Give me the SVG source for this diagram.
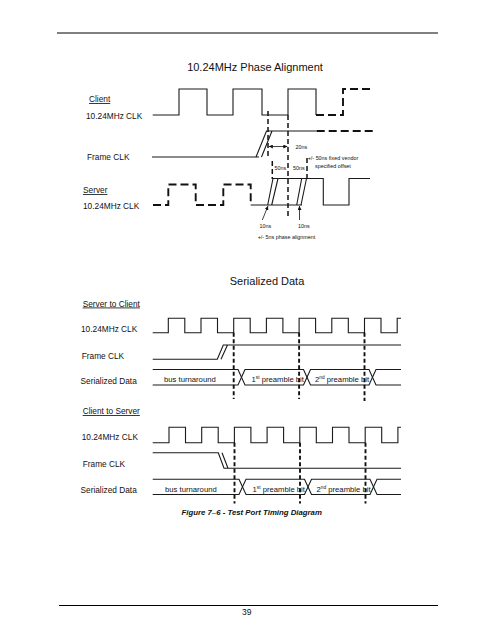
<svg xmlns="http://www.w3.org/2000/svg" width="495" height="640" viewBox="0 0 495 640">
<style>
text{font-family:"Liberation Sans",Arial,sans-serif;fill:#111}
.lbl{font-size:8.3px}
.ttl{font-size:11px;text-anchor:middle}
.sm{font-size:5.4px}
.dt{font-size:7.7px}
.w{fill:none;stroke:#1a1a1a;stroke-width:1.1}
.wd{fill:none;stroke:#111;stroke-width:1.9;stroke-dasharray:8 4}
.vd{fill:none;stroke:#111;stroke-width:1.5;stroke-dasharray:5 3}
.vs{fill:none;stroke:#111;stroke-width:1.9;stroke-dasharray:4 2.5}
.rule{stroke:#000;stroke-width:1}
.ar{fill:none;stroke:#111;stroke-width:0.8}
</style>
<defs>
<marker id="ah" viewBox="0 0 6 6" refX="6" refY="3" markerWidth="4" markerHeight="4" markerUnits="userSpaceOnUse" orient="auto">
<path d="M0,0 L6,3 L0,6 Z" fill="#111"/>
</marker>
</defs>
<rect width="495" height="640" fill="#fff"/>
<line class="rule" x1="57" y1="33" x2="438" y2="33"/>
<line class="rule" x1="59" y1="605.5" x2="438" y2="605.5"/>
<text x="246.7" y="614.5" font-size="8.5" text-anchor="middle">39</text>

<g id="phase-alignment">
<text class="ttl" x="255" y="71">10.24MHz Phase Alignment</text>
<g id="labels-top">
<text class="lbl" x="89" y="102" text-decoration="underline">Client</text>
<text class="lbl" x="86" y="118.5">10.24MHz CLK</text>
<text class="lbl" x="87" y="160">Frame CLK</text>
<text class="lbl" x="83" y="193" text-decoration="underline">Server</text>
<text class="lbl" x="83" y="208.5">10.24MHz CLK</text>
</g>
<g id="client-clk">
<path class="w" d="M152.7,115 H179 V89 H207 V115 H233 V89 H262 V115 H288 V89 H316 V115"/>
<path class="wd" d="M316,115 H343 V89 H373"/>
</g>
<g id="frame-clk">
<path class="w" d="M152,157 H259 M256,157 L266.5,131 H316.7 M261.5,157 L272,131"/>
<path class="wd" d="M316.7,131 H373"/>
</g>
<g id="server-clk">
<path class="wd" d="M153,205 H168.3 V184.5 H195.7 V205 H223.3 V184.5 H250.7 V205"/>
<path class="w" d="M250.7,205 H302 M272,178.5 H323.3 V205 H349 V178.5 H370 M267.7,205 L273,178.5 M271.7,205 L278,178.5 M296.7,205 L301.7,178.5 M301,205 L306.5,178.5"/>
</g>
<g id="connectors-top">
<path class="vd" d="M268,111 V157"/>
<path class="vd" d="M288,115 V217"/>
<path class="vd" d="M272.3,161 V179"/>
<path class="vd" d="M307,158 V179"/>
<line class="ar" x1="278" y1="146.5" x2="268.8" y2="146.5" marker-end="url(#ah)"/>
<line class="ar" x1="278" y1="146.5" x2="287.3" y2="146.5" marker-end="url(#ah)"/>
<line class="ar" x1="262.3" y1="220" x2="268" y2="206" marker-end="url(#ah)"/>
<line class="ar" x1="299.5" y1="220" x2="299.5" y2="206" marker-end="url(#ah)"/>
</g>
<g id="annotations-top">
<text class="sm" x="295.5" y="148.5">20ns</text>
<text class="sm" x="274.5" y="170.3">50ns</text>
<text class="sm" x="293" y="170.3">50ns</text>
<text class="sm" x="307.7" y="160.3">+/- 50ns fixed vendor</text>
<text class="sm" x="315" y="168.3">specified offset</text>
<text class="sm" x="259.5" y="228">10ns</text>
<text class="sm" x="298" y="228">10ns</text>
<text class="sm" x="286.5" y="238.5" text-anchor="middle">+/- 5ns phase alignment</text>
</g>
</g>

<g id="serialized-data">
<text class="ttl" x="267" y="284.5">Serialized Data</text>
<g id="labels-s2c">
<text class="lbl" x="82.7" y="306.5" text-decoration="underline">Server to Client</text>
<text class="lbl" x="81" y="331.5">10.24MHz CLK</text>
<text class="lbl" x="81.7" y="359">Frame CLK</text>
<text class="lbl" x="80.5" y="384">Serialized Data</text>
</g>
<g id="s2c-clk">
<path class="w" d="M152.7,332.7 H168.3 V318.3 H184.8 V332.7 H201 V318.3 H217.5 V332.7 H233.7 V318.3 H250.2 V332.7 H266.4 V318.3 H282.9 V332.7 H299.1 V318.3 H315.6 V332.7 H331.8 V318.3 H348.3 V332.7 H364.5 V318.3 H381 V332.7 H397.2 V318.3 H401"/>
</g>
<g id="s2c-frame">
<path class="w" d="M152.7,359.3 H217.3 L223.3,345 H401 M221,359.3 L227.5,345"/>
</g>
<g id="s2c-data">
<path class="w" d="M152.7,369.5 H238 L245,385 H303.5 L310.5,369.5 H369 L376,385 H401"/>
<path class="w" d="M152.7,385 H238 L245,369.5 H303.5 L310.5,385 H369 L376,369.5 H401"/>
<text class="dt" x="164" y="382">bus turnaround</text>
<text class="dt" x="251.5" y="382">1<tspan font-size="4.8" dy="-2.8">st</tspan><tspan dy="2.8"> preamble bit</tspan></text>
<text class="dt" x="315" y="382">2<tspan font-size="4.8" dy="-2.8">nd</tspan><tspan dy="2.8"> preamble bit</tspan></text>
</g>
<g id="connectors-s2c">
<path class="vs" d="M233.7,332.7 V399"/>
<path class="vs" d="M299.1,332.7 V399"/>
<path class="vs" d="M364.5,332.7 V401"/>
</g>

<g id="labels-c2s">
<text class="lbl" x="82.7" y="414" text-decoration="underline">Client to Server</text>
<text class="lbl" x="81.7" y="440">10.24MHz CLK</text>
<text class="lbl" x="82.7" y="466.5">Frame CLK</text>
<text class="lbl" x="80.5" y="493">Serialized Data</text>
</g>
<g id="c2s-clk">
<path class="w" d="M152.7,442.7 H169 V427.3 H185.5 V442.7 H201.7 V427.3 H218.2 V442.7 H234.4 V427.3 H250.9 V442.7 H267.1 V427.3 H283.6 V442.7 H299.8 V427.3 H316.3 V442.7 H332.5 V427.3 H349 V442.7 H365.2 V427.3 H381.7 V442.7 H397.9 V427.3 H401"/>
</g>
<g id="c2s-frame">
<path class="w" d="M152.7,452.7 H218.3 L224,468.3 H401 M222,452.7 L228,468.3"/>
</g>
<g id="c2s-data">
<path class="w" d="M152.7,479.3 H239 L246,494.5 H304.5 L311.5,479.3 H370 L377,494.5 H401"/>
<path class="w" d="M152.7,494.5 H239 L246,479.3 H304.5 L311.5,494.5 H370 L377,479.3 H401"/>
<text class="dt" x="165" y="492">bus turnaround</text>
<text class="dt" x="252.5" y="492">1<tspan font-size="4.8" dy="-2.8">st</tspan><tspan dy="2.8"> preamble bit</tspan></text>
<text class="dt" x="316.5" y="492">2<tspan font-size="4.8" dy="-2.8">nd</tspan><tspan dy="2.8"> preamble bit</tspan></text>
</g>
<g id="connectors-c2s">
<path class="vs" d="M234.5,442.7 V503.5"/>
<path class="vs" d="M300,442.7 V503.5"/>
<path class="vs" d="M365.5,442.7 V503.5"/>
</g>
<text x="251.7" y="514.5" font-size="7.8" font-weight="bold" font-style="italic" text-anchor="middle">Figure 7–6 - Test Port Timing Diagram</text>
</g>
</svg>
